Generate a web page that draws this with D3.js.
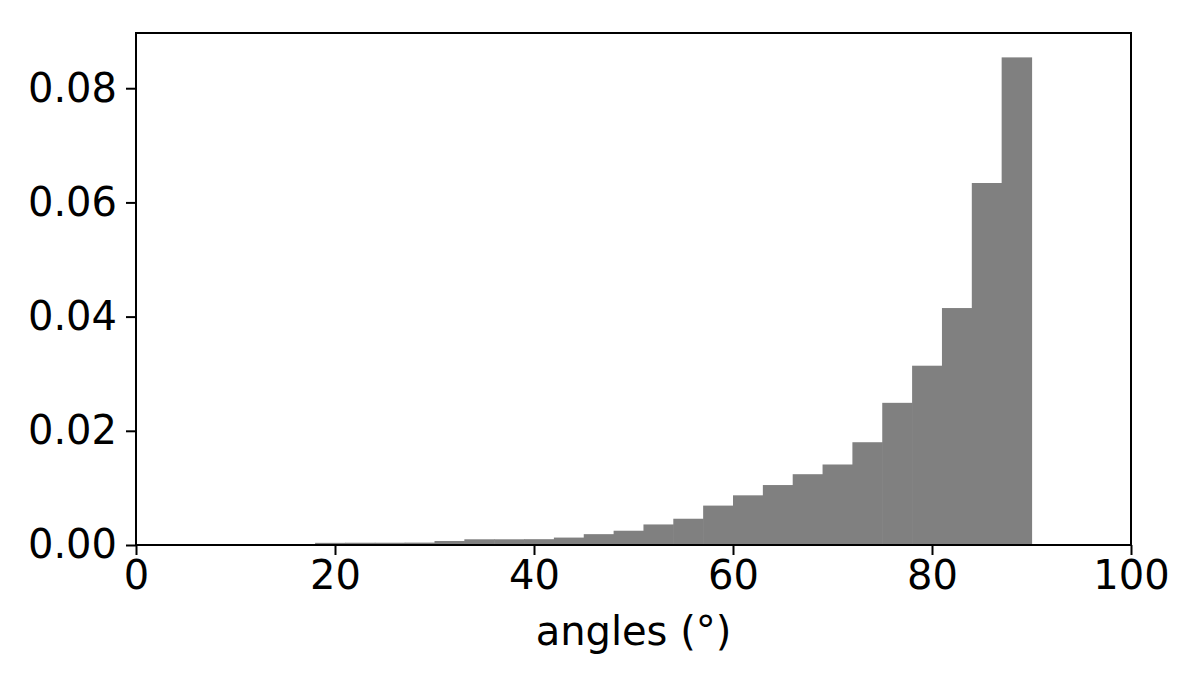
<!DOCTYPE html>
<html>
<head>
<meta charset="utf-8">
<script src="https://cdn.jsdelivr.net/npm/d3@7"></script>
<style>
  html, body { margin: 0; padding: 0; background: #fff; }
  svg { display: block; }
  text { font-family: "DejaVu Sans", sans-serif; fill: #000; }
</style>
</head>
<body>
<svg id="chart" width="1196" height="684"></svg>
<script>
// Histogram bin left edges (degrees), bin width 3
const binStarts = [18, 21, 24, 27, 30, 33, 36, 39, 42, 45, 48, 51, 54, 57, 60, 63, 66, 69, 72, 75, 78, 81, 84, 87];
const binWidth = 3;
// Density values per bin
const densities = [0.00038, 0.0004, 0.0004, 0.00042, 0.0007, 0.001, 0.001, 0.00102, 0.0013, 0.0019,
                   0.0025, 0.0036, 0.0046, 0.0069, 0.0087, 0.0105, 0.0124, 0.0141, 0.0180, 0.0249,
                   0.0314, 0.0415, 0.0634, 0.0854];
const xTicks = [0, 20, 40, 60, 80, 100];
const yTicks = [0, 0.02, 0.04, 0.06, 0.08];
const xLabel = "angles (°)";

const mLeft = 136, mRight = 1131, mTop = 33, mBottom = 545;
const svg = d3.select("#chart");

const x = d3.scaleLinear().domain([0, 100]).range([mLeft, mRight]);
const y = d3.scaleLinear().domain([0, d3.max(densities) * 1.05]).range([mBottom, mTop]);

const bins = binStarts.map((s, i) => ({x0: s, x1: s + binWidth, v: densities[i]}));

svg.append("g").selectAll("rect").data(bins).join("rect")
  .attr("x", d => x(d.x0))
  .attr("width", d => x(d.x1) - x(d.x0) + 0.6)
  .attr("y", d => y(d.v))
  .attr("height", d => y(0) - y(d.v))
  .attr("fill", "#808080");

const xAxis = d3.axisBottom(x).tickValues(xTicks).tickSize(10).tickPadding(6).tickFormat(d3.format("d"));
const yAxis = d3.axisLeft(y).tickValues(yTicks).tickSize(10).tickPadding(9).tickFormat(d3.format(".2f"));

const gx = svg.append("g").attr("transform", `translate(0,${mBottom})`).call(xAxis);
const gy = svg.append("g").attr("transform", `translate(${mLeft},0)`).call(yAxis);
[gx, gy].forEach(g => {
  g.select(".domain").remove();
  g.selectAll(".tick line").attr("stroke", "#000").attr("stroke-width", 2);
  g.selectAll(".tick text").style("font-size", "40px").attr("fill", "#000");
});
gx.selectAll(".tick text").attr("dy", "0.71em");

// Spines
svg.append("rect")
  .attr("x", mLeft).attr("y", mTop)
  .attr("width", mRight - mLeft).attr("height", mBottom - mTop)
  .attr("fill", "none").attr("stroke", "#000").attr("stroke-width", 2);

svg.append("text")
  .attr("x", (mLeft + mRight) / 2)
  .attr("y", 645)
  .attr("text-anchor", "middle")
  .style("font-size", "40px")
  .text(xLabel);
</script>
</body>
</html>
